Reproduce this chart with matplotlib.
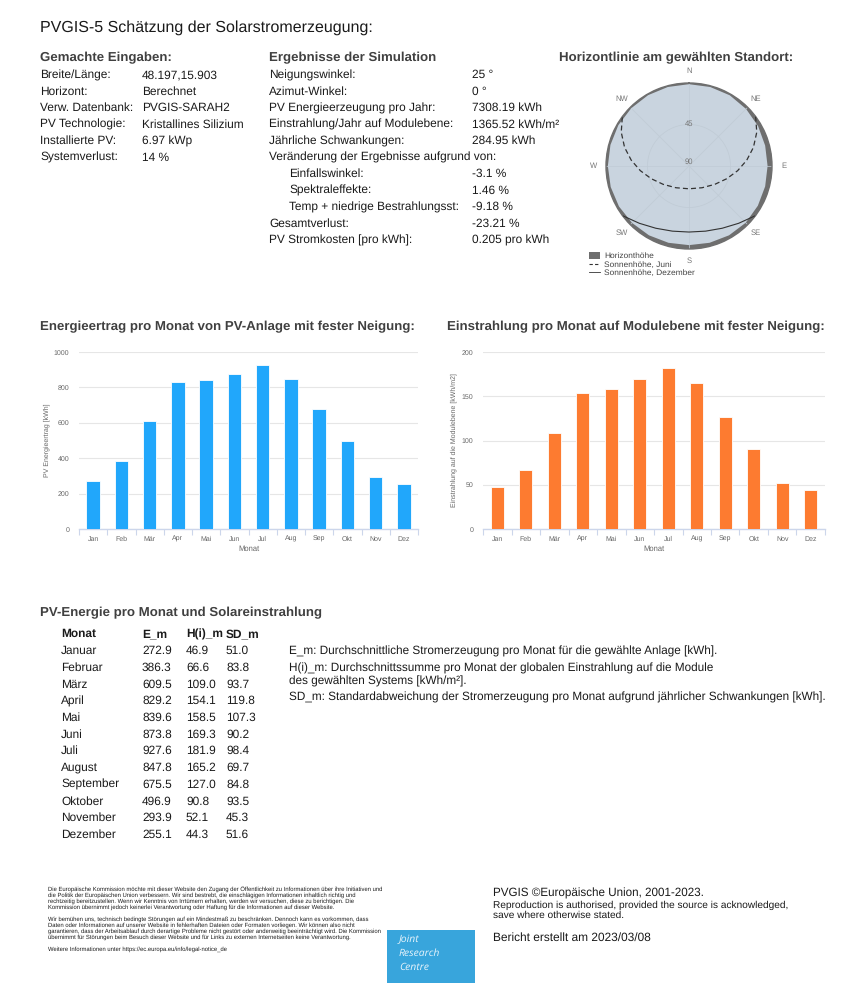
import matplotlib
matplotlib.use('Agg')
import matplotlib.pyplot as plt
import numpy as np
from matplotlib.patches import Rectangle, Patch
from matplotlib.lines import Line2D

plt.rcParams['font.family'] = ['Liberation Sans', 'DejaVu Sans']
plt.rcParams['text.hinting'] = 'no_hinting'

# ---------------- data ----------------
months_short = ['Jan', 'Feb', 'Mär', 'Apr', 'Mai', 'Jun', 'Jul', 'Aug', 'Sep', 'Okt', 'Nov', 'Dez']
months_long = ['Januar', 'Februar', 'März', 'April', 'Mai', 'Juni', 'Juli', 'August',
               'September', 'Oktober', 'November', 'Dezember']
E_m = [272.9, 386.3, 609.5, 829.2, 839.6, 873.8, 927.6, 847.8, 675.5, 496.9, 293.9, 255.1]
H_m = [46.9, 66.6, 109.0, 154.1, 158.5, 169.3, 181.9, 165.2, 127.0, 90.8, 52.1, 44.3]
SD_m = [51.0, 83.8, 93.7, 119.8, 107.3, 90.2, 98.4, 69.7, 84.8, 93.5, 45.3, 51.6]

input_labels = ['Breite/Länge:', 'Horizont:', 'Verw. Datenbank:', 'PV Technologie:',
                'Installierte PV:', 'Systemverlust:']
input_values = ['48.197,15.903', 'Berechnet', 'PVGIS-SARAH2', 'Kristallines Silizium',
                '6.97 kWp', '14 %']

result_labels = ['Neigungswinkel:', 'Azimut-Winkel:', 'PV Energieerzeugung pro Jahr:',
                 'Einstrahlung/Jahr auf Modulebene:', 'Jährliche Schwankungen:',
                 'Veränderung der Ergebnisse aufgrund von:', 'Einfallswinkel:',
                 'Spektraleffekte:', 'Temp + niedrige Bestrahlungsst:', 'Gesamtverlust:',
                 'PV Stromkosten [pro kWh]:']
result_values = ['25 °', '0 °', '7308.19 kWh', '1365.52 kWh/m²', '284.95 kWh', '',
                 '-3.1 %', '1.46 %', '-9.18 %', '-23.21 %', '0.205 pro kWh']
result_indent = [0, 0, 0, 0, 0, 0, 1, 1, 1, 0, 0]

# horizon (azimuth from north, degrees ; horizon height, degrees)
horizon_az = [0, 15, 30, 45, 60, 75, 90, 105, 120, 135, 150, 165, 180,
              195, 210, 225, 240, 255, 270, 285, 300, 315, 330, 345, 360]
horizon_h = [1.3, 1.3, 1.5, 2.5, 3.5, 4.5, 4.8, 4.5, 3.8, 3.0, 3.2, 3.8, 4.2,
             3.8, 3.2, 2.7, 2.3, 2.1, 2.0, 1.8, 1.5, 1.4, 1.3, 1.3, 1.3]
june_az = [53.4, 63.5, 73.9, 84.3, 95.5, 108.6, 125.5, 149.0, 180.0,
           211.0, 234.5, 251.4, 264.5, 275.7, 286.1, 296.5, 306.6]
june_el = [0.0, 7.9, 17.3, 27.1, 37.0, 46.8, 55.7, 62.5, 65.3,
           62.5, 55.7, 46.8, 37.0, 27.1, 17.3, 7.9, 0.0]
dec_az = [127.3, 139.1, 151.9, 165.7, 180.0, 194.3, 208.1, 220.9, 232.7]
dec_el = [0.5, 7.8, 13.5, 17.1, 18.4, 17.1, 13.5, 7.8, 0.5]
compass = ['N', 'NE', 'E', 'SE', 'S', 'SW', 'W', 'NW']

table_note = ['E_m: Durchschnittliche Stromerzeugung pro Monat für die gewählte Anlage [kWh].',
              'H(i)_m: Durchschnittssumme pro Monat der globalen Einstrahlung auf die Module',
              'des gewählten Systems [kWh/m²].',
              'SD_m: Standardabweichung der Stromerzeugung pro Monat aufgrund jährlicher Schwankungen [kWh].']

disclaimer = [
    'Die Europäische Kommission möchte mit dieser Website den Zugang der Öffentlichkeit zu Informationen über ihre Initiativen und',
    'die Politik der Europäischen Union verbessern. Wir sind bestrebt, die einschlägigen Informationen inhaltlich richtig und',
    'rechtzeitig bereitzustellen. Wenn wir Kenntnis von Irrtümern erhalten, werden wir versuchen, diese zu berichtigen. Die',
    'Kommission übernimmt jedoch keinerlei Verantwortung oder Haftung für die Informationen auf dieser Website.',
    '',
    'Wir bemühen uns, technisch bedingte Störungen auf ein Mindestmaß zu beschränken. Dennoch kann es vorkommen, dass',
    'Daten oder Informationen auf unserer Website in fehlerhaften Dateien oder Formaten vorliegen. Wir können also nicht',
    'garantieren, dass der Arbeitsablauf durch derartige Probleme nicht gestört oder anderweitig beeinträchtigt wird. Die Kommission',
    'übernimmt für Störungen beim Besuch dieser Website und für Links zu externen Internetseiten keine Verantwortung.',
    '',
    'Weitere Informationen unter https://ec.europa.eu/info/legal-notice_de',
]

# ---------------- figure ----------------
W, H = 867, 983
fig = plt.figure(figsize=(W / 100, H / 100), dpi=100)
fig.patch.set_facecolor('white')

TXT = '#1a1a1a'
HDR = '#404040'
FS = 8.6
HFS = 9.5


def T(x, y, s, **kw):
    kw.setdefault('va', 'center')
    kw.setdefault('ha', 'left')
    kw.setdefault('color', TXT)
    return fig.text(x / W, 1 - y / H, s, **kw)


def rect(x0, y0, x1, y1):
    return [x0 / W, 1 - y1 / H, (x1 - x0) / W, (y1 - y0) / H]


# title
T(40, 28, 'PVGIS-5 Schätzung der Solarstromerzeugung:', fontsize=11.5)

# inputs
T(40, 58, 'Gemachte Eingaben:', fontsize=HFS, fontweight='bold', color=HDR)
for i, (lab, val) in enumerate(zip(input_labels, input_values)):
    y = 75 + i * 16.5
    T(40, y, lab, fontsize=FS)
    T(142, y, val, fontsize=FS)

# results
T(269, 58, 'Ergebnisse der Simulation', fontsize=HFS, fontweight='bold', color=HDR)
for i, (lab, val, ind) in enumerate(zip(result_labels, result_values, result_indent)):
    y = 75 + i * 16.5
    T(269 + 20 * ind, y, lab, fontsize=FS)
    if val:
        T(472, y, val, fontsize=FS)

# horizon
T(676, 58, 'Horizontlinie am gewählten Standort:', fontsize=HFS, fontweight='bold',
  color=HDR, ha='center')

axp = fig.add_axes(rect(606, 83, 772, 249), projection='polar')
axp.set_theta_zero_location('N')
axp.set_theta_direction(-1)
axp.set_facecolor('#6e6e6e')
r_h = 90 - np.array(horizon_h)
axp.fill(np.radians(horizon_az), r_h, color='#c9d4df', zorder=1, lw=0)
axp.plot(np.radians(june_az), 90 - np.array(june_el), color='#333333', lw=0.9,
         ls=(0, (4, 2.5)), zorder=3)
axp.plot(np.radians(dec_az), 90 - np.array(dec_el), color='#333333', lw=0.8, zorder=3)
axp.set_ylim(0, 90)
axp.set_yticks([45])
axp.set_yticklabels([])
axp.set_xticks(np.radians(np.arange(0, 360, 45)))
axp.set_xticklabels([])
axp.grid(True, color='#c0cbd5', lw=0.5)
axp.spines['polar'].set_color('#6e6e6e')
axp.spines['polar'].set_linewidth(1.0)
axp.text(0, 46, '45', ha='center', va='center', fontsize=5.5, color='#777777', zorder=4)
axp.text(0, 4, '90', ha='center', va='center', fontsize=5.5, color='#777777', zorder=4)
for k, lab in enumerate(compass):
    axp.text(np.radians(45 * k), 103, lab, ha='center', va='center', fontsize=5.5,
             color='#777777', clip_on=False)
handles = [Patch(facecolor='#6e6e6e', edgecolor='none'),
           Line2D([], [], color='#333333', lw=0.8, ls=(0, (3, 2))),
           Line2D([], [], color='#333333', lw=0.6)]
fig.legend(handles, ['Horizonthöhe', 'Sonnenhöhe, Juni', 'Sonnenhöhe, Dezember'],
           loc='upper left', bbox_to_anchor=(589 / W, 1 - 252 / H), frameon=False,
           fontsize=6, labelcolor='#444444', handlelength=1.3, handleheight=0.9,
           handletextpad=0.5, labelspacing=0.05, borderpad=0, borderaxespad=0)

# bar charts
T(40, 327, 'Energieertrag pro Monat von PV-Anlage mit fester Neigung:', fontsize=HFS,
  fontweight='bold', color=HDR)
T(447, 327, 'Einstrahlung pro Monat auf Modulebene mit fester Neigung:', fontsize=HFS,
  fontweight='bold', color=HDR)


def barchart(box, vals, color, ymax, step, ylabel, ylab_x):
    ax = fig.add_axes(rect(*box))
    x = np.arange(len(vals))
    ax.bar(x, vals, width=0.47, color=color, edgecolor='white', linewidth=0.6, zorder=3)
    ax.set_xlim(-0.5, len(vals) - 0.5)
    ax.set_ylim(0, ymax)
    ticks = np.arange(0, ymax + 1, step)
    ax.set_yticks(ticks)
    ax.set_yticklabels([f'{int(t)}' for t in ticks])
    ax.yaxis.grid(True, color='#e6e6e6', lw=0.8, zorder=0)
    ax.set_xticks(x)
    ax.set_xticklabels(months_short)
    ax.set_xticks(np.arange(-0.5, len(vals), 1), minor=True)
    ax.tick_params(axis='x', which='major', length=0, pad=5, labelsize=5, labelcolor='#666666')
    ax.tick_params(axis='x', which='minor', length=4, width=0.8, color='#ccd6eb')
    ax.tick_params(axis='y', length=0, pad=7, labelsize=5, labelcolor='#666666')
    for s in ['top', 'right', 'left']:
        ax.spines[s].set_visible(False)
    ax.spines['bottom'].set_color('#ccd6eb')
    ax.spines['bottom'].set_linewidth(1.0)
    ax.set_xlabel('Monat', fontsize=5.5, color='#666666', labelpad=2)
    ax.set_ylabel(ylabel, fontsize=5, color='#666666')
    ax.yaxis.set_label_coords((ylab_x - box[0]) / (box[2] - box[0]), 0.5)
    return ax


barchart((79, 352, 418, 529), E_m, '#21a7fb', 1000, 200, 'PV Energieertrag [kWh]', 50)
barchart((483, 352, 825, 529), H_m, '#fd7b30', 200, 50,
         'Einstrahlung auf die Modulebene [kWh/m2]', 457)

# table
T(40, 613, 'PV-Energie pro Monat und Solareinstrahlung', fontsize=HFS, fontweight='bold',
  color=HDR)
T(61, 634, 'Monat', fontsize=FS, fontweight='bold')
T(142, 634, 'E_m', fontsize=FS, fontweight='bold')
T(186, 634, 'H(i)_m', fontsize=FS, fontweight='bold')
T(226, 634, 'SD_m', fontsize=FS, fontweight='bold')
for i in range(12):
    y = 651 + i * 16.7
    T(61, y, months_long[i], fontsize=FS)
    T(142, y, f'{E_m[i]:.1f}', fontsize=FS)
    T(186, y, f'{H_m[i]:.1f}', fontsize=FS)
    T(226, y, f'{SD_m[i]:.1f}', fontsize=FS)

for y, s in zip([651, 668, 681, 697], table_note):
    T(289, y, s, fontsize=8.5)

# footer
for i, s in enumerate(disclaimer):
    if s:
        T(48, 889 + i * 6, s, fontsize=4.2)

fig.patches.append(Rectangle((387 / W, 0), (475 - 387) / W, 1 - 930 / H,
                             transform=fig.transFigure, facecolor='#38a5dc',
                             edgecolor='none'))
for y, s in zip([940, 953, 967], ['Joint', 'Research', 'Centre']):
    T(399, y, s, fontsize=7.5, style='italic', color='#e6f3fb',
      family=['Open Sans', 'DejaVu Sans'])

T(493, 893, 'PVGIS ©Europäische Union, 2001-2023.', fontsize=8.4)
T(493, 905, 'Reproduction is authorised, provided the source is acknowledged,', fontsize=7.3)
T(493, 915, 'save where otherwise stated.', fontsize=7.3)
T(493, 938, 'Bericht erstellt am 2023/03/08', fontsize=8.6)

fig.savefig('out.png', dpi=100, facecolor='white')
